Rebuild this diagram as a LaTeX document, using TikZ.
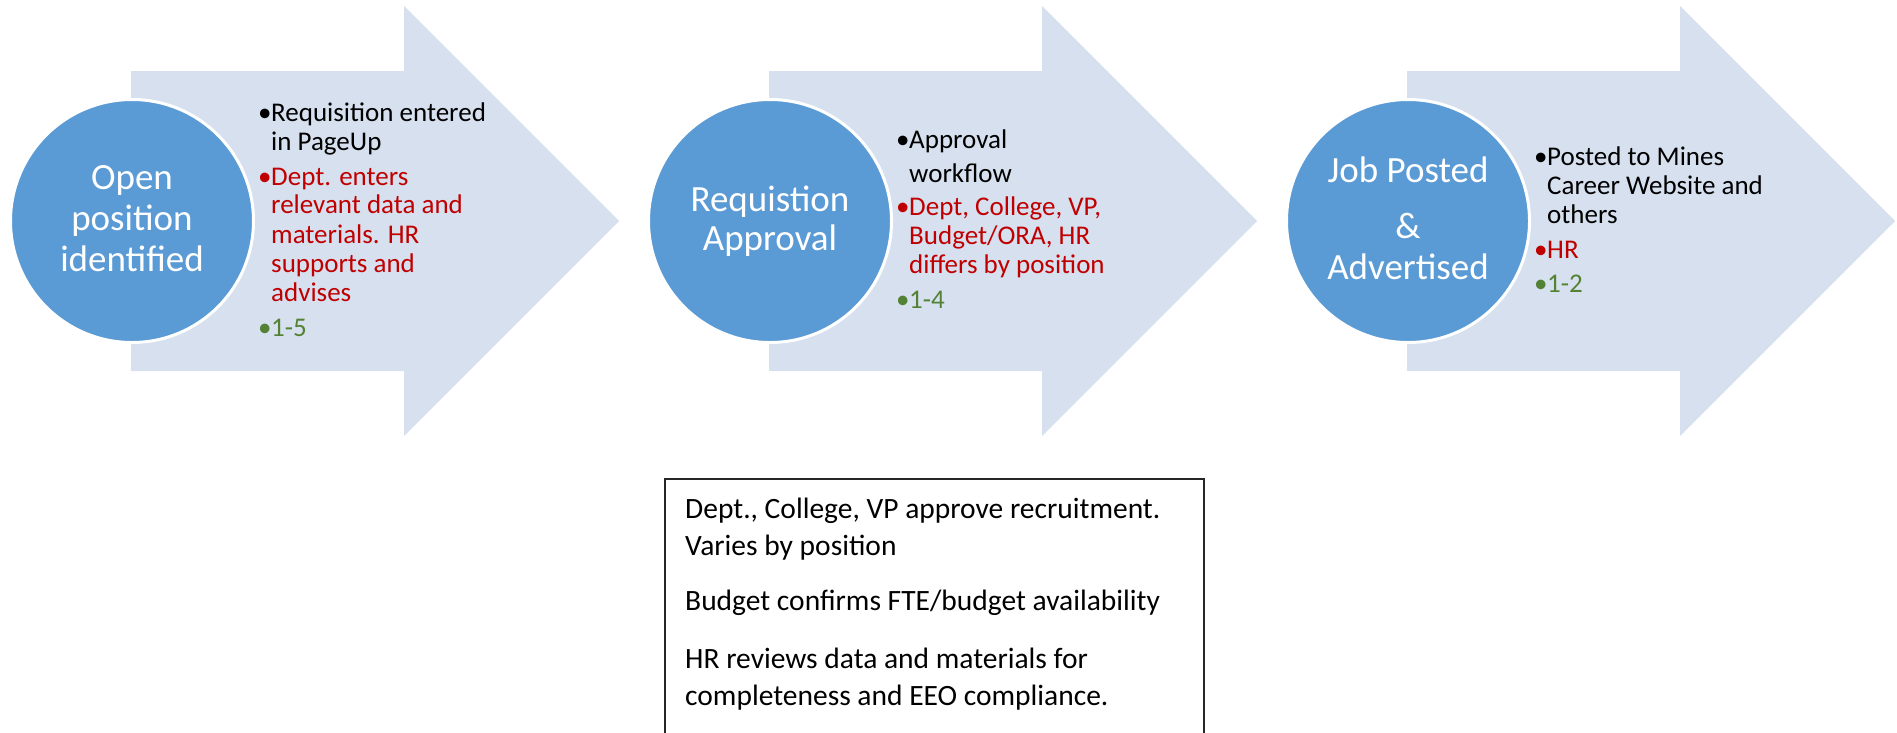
\documentclass[tikz,border=0pt]{standalone}
\usepackage{fontspec}
\setmainfont{Carlito}
\definecolor{discfill}{HTML}{5B9BD5}
\definecolor{arrowfill}{HTML}{D6E0EE}
\definecolor{txtred}{HTML}{C00000}
\definecolor{txtgreen}{HTML}{548235}
\tikzset{
  bigarrow/.style={fill=arrowfill, draw=none},
  disc/.style={circle, fill=discfill, draw=white, line width=3pt, minimum size=243pt, inner sep=0pt},
  disctext/.style={anchor=base, inner sep=0pt, text=white, font=\fontsize{37}{40}\selectfont},
  itembase/.style={anchor=base west, inner sep=0pt, font=\fontsize{27}{29}\selectfont},
  itemblack/.style={itembase, text=black},
  itemred/.style={itembase, text=txtred},
  itemgreen/.style={itembase, text=txtgreen},
  notebox/.style={draw=black!85, line width=2pt, anchor=north west, minimum width=539pt, minimum height=300pt, inner sep=0pt},
  notetext/.style={anchor=base west, inner sep=0pt, text=black, font=\fontsize{29.5}{37}\selectfont}
}
\begin{document}
\begin{tikzpicture}[x=1pt,y=-1pt]
\useasboundingbox (0,0) rectangle (1897,732);
\clip (0,0) rectangle (1897,732);

% arrows
\foreach \dx in {0,638,1276} {
  \fill[bigarrow] ({131+\dx},71) -- ({404+\dx},71) -- ({404+\dx},6) -- ({619+\dx},221)
    -- ({404+\dx},436) -- ({404+\dx},371) -- ({131+\dx},371) -- cycle;
}

% circles
\node[disc] (c1) at (132,221) {};
\node[disc] (c2) at (770,221) {};
\node[disc] (c3) at (1408,221) {};

\node[disctext] (c1a) at (132,189) {Open};
\node[disctext] (c1b) at (132,230) {position};
\node[disctext] (c1c) at (132,271) {identified};

\node[disctext] (c2a) at (770,211) {Requistion};
\node[disctext] (c2b) at (770,250) {Approval};

\node[disctext] (c3a) at (1408,182) {Job Posted};
\node[disctext] (c3b) at (1408,238) {\&};
\node[disctext] (c3c) at (1408,279) {Advertised};

% arrow 1 text
\node[itemblack] (b11) at (258,121) {•};
\node[itemblack] (t11a) at (271,121) {Requisition entered};
\node[itemblack] (t11b) at (271,150) {in PageUp};
\node[itemred] (b12) at (258,185) {•};
\node[itemred] (t12a) at (271,185) {Dept. enters};
\node[itemred] (t12b) at (271,213) {relevant data and};
\node[itemred] (t12c) at (271,243) {materials. HR};
\node[itemred] (t12d) at (271,272) {supports and};
\node[itemred] (t12e) at (271,301) {advises};
\node[itemgreen] (b13) at (258,336) {•};
\node[itemgreen] (t13a) at (271,336) {1-5};

% arrow 2 text
\node[itemblack] (b21) at (896,148) {•};
\node[itemblack] (t21a) at (909,148) {Approval};
\node[itemblack] (t21b) at (909,182) {workflow};
\node[itemred] (b22) at (896,215) {•};
\node[itemred] (t22a) at (909,215) {Dept, College, VP,};
\node[itemred] (t22b) at (909,244) {Budget/ORA, HR};
\node[itemred] (t22c) at (909,273) {differs by position};
\node[itemgreen] (b23) at (896,308) {•};
\node[itemgreen] (t23a) at (909,308) {1-4};

% arrow 3 text
\node[itemblack] (b31) at (1534,165) {•};
\node[itemblack] (t31a) at (1547,165) {Posted to Mines};
\node[itemblack] (t31b) at (1547,194) {Career Website and};
\node[itemblack] (t31c) at (1547,223) {others};
\node[itemred] (b32) at (1534,258) {•};
\node[itemred] (t32a) at (1547,258) {HR};
\node[itemgreen] (b33) at (1534,292) {•};
\node[itemgreen] (t33a) at (1547,292) {1-2};

% note box
\node[notebox] (box) at (664,478) {};
\node[notetext] (n1) at (685,518) {Dept., College, VP approve recruitment.};
\node[notetext] (n2) at (685,555) {Varies by position};
\node[notetext] (n3) at (685,610) {Budget confirms FTE/budget availability};
\node[notetext] (n4) at (685,668) {HR reviews data and materials for};
\node[notetext] (n5) at (685,705) {completeness and EEO compliance.};
\end{tikzpicture}
\end{document}
